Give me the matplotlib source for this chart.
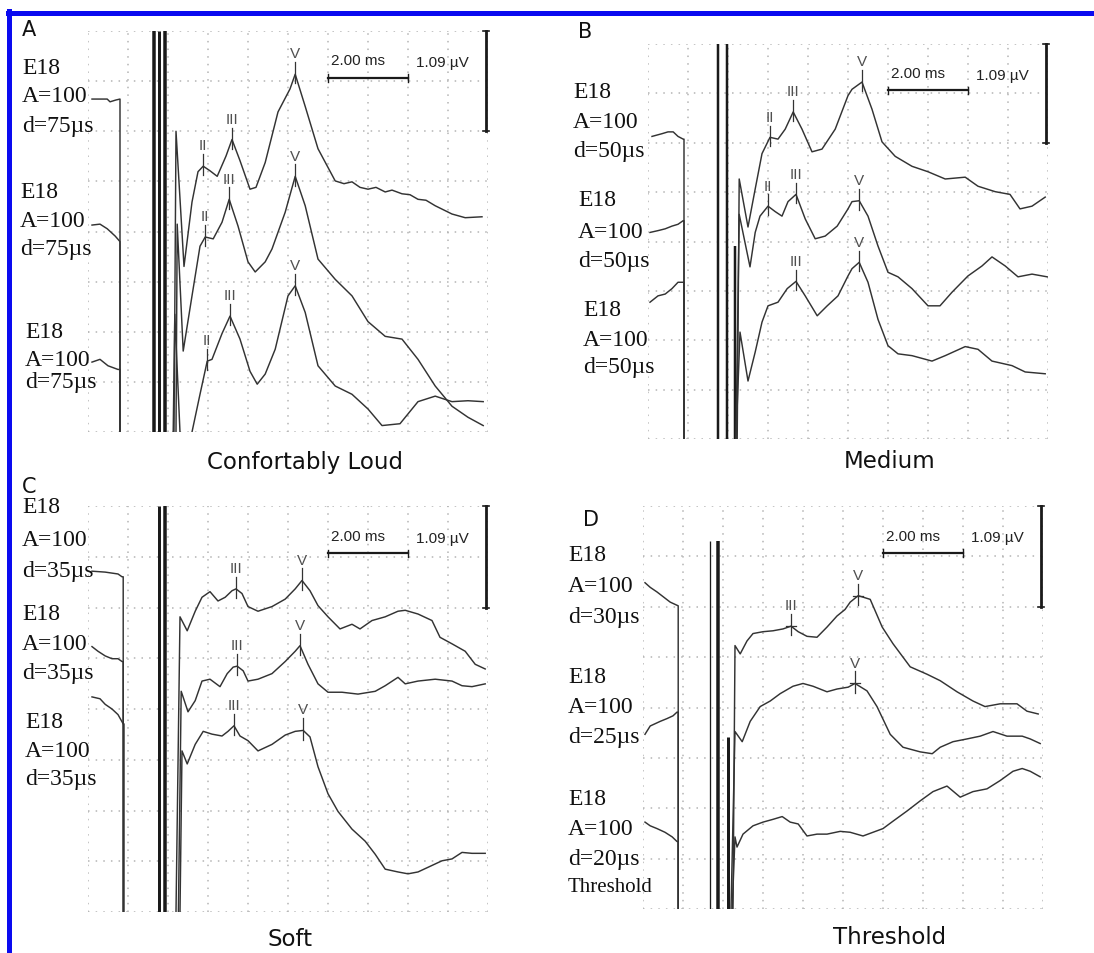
import numpy as np
import matplotlib.pyplot as plt
from matplotlib.lines import Line2D

nan = float("nan")
W, H = 1094, 954

# ---- traces: (time ms, amplitude uV); nan splits pre- and post-stimulus parts ----
a1 = [(0.1,3.62),(0.48,3.62),(0.55,3.59),(0.7,3.61),(0.8,3.62),(0.8,0),(nan,nan),
      (2.15,0),(2.2,3.27),(2.4,1.80),(2.6,2.5),(2.75,2.83),(2.88,2.89),(3.05,2.84),(3.23,2.78),
      (3.45,3.0),(3.6,3.18),(3.8,2.95),(4.05,2.64),(4.2,2.66),(4.43,2.93),(4.75,3.48),(5.05,3.73),
      (5.18,3.89),(5.43,3.54),(5.75,3.08),(6.18,2.73),(6.4,2.70),(6.6,2.72),(6.8,2.66),(7.0,2.64),
      (7.2,2.66),(7.43,2.61),(7.6,2.63),(7.85,2.59),(8.05,2.58),(8.25,2.53),(8.45,2.52),(8.68,2.46),
      (9.1,2.37),(9.43,2.33),(9.85,2.34)]
a2 = [(0.1,2.25),(0.3,2.26),(0.48,2.21),(0.68,2.13),(0.8,2.07),(0.8,0),(nan,nan),
      (2.2,0),(2.23,2.26),(2.38,0.88),(2.6,1.48),(2.8,2.02),(2.93,2.12),(3.13,2.10),(3.35,2.28),
      (3.53,2.53),(3.75,2.24),(4.0,1.85),(4.18,1.74),(4.43,1.85),(4.6,1.99),(4.93,2.39),(5.18,2.78),
      (5.43,2.46),(5.75,1.88),(6.18,1.66),(6.6,1.48),(7.0,1.20),(7.43,1.04),(7.85,1.01),(8.25,0.79),
      (8.68,0.50),(9.1,0.28),(9.5,0.16),(9.88,0.07)]
a3 = [(0.1,0.76),(0.3,0.79),(0.5,0.72),(0.75,0.68),(0.8,0.68),(0.8,0),(nan,nan),
      (2.13,0),(2.17,1.28),(2.33,-0.3),(2.55,-0.3),(2.6,0),(2.8,0.41),(2.98,0.77),(3.1,0.79),
      (3.35,1.07),(3.55,1.26),(3.8,1.01),(4.05,0.66),(4.23,0.52),(4.43,0.63),(4.68,0.9),(5.0,1.48),
      (5.18,1.59),(5.43,1.30),(5.75,0.72),(6.18,0.50),(6.6,0.41),(7.0,0.25),(7.35,0.07),(7.8,0.09),
      (8.25,0.33),(8.68,0.39),(9.1,0.33),(9.5,0.34),(9.88,0.33)]

b1 = [(0.1,3.34),(0.35,3.37),(0.5,3.39),(0.63,3.39),(0.75,3.34),(0.88,3.31),(0.9,3.31),(0.9,0),(nan,nan),
      (2.23,0),(2.28,2.87),(2.5,2.34),(2.68,2.76),(2.85,3.15),(3.05,3.33),(3.25,3.31),(3.43,3.42),
      (3.63,3.61),(3.85,3.42),(4.1,3.17),(4.35,3.2),(4.68,3.42),(5.0,3.79),(5.1,3.86),(5.35,3.94),
      (5.6,3.64),(5.85,3.28),(6.18,3.12),(6.6,3.01),(7.0,2.95),(7.43,2.87),(7.93,2.89),(8.25,2.79),
      (8.68,2.73),(9.05,2.70),(9.3,2.54),(9.6,2.57),(9.93,2.67)]
b2 = [(0.05,2.28),(0.25,2.30),(0.43,2.32),(0.6,2.35),(0.75,2.37),(0.88,2.41),(0.9,2.41),(0.9,0),(nan,nan),
      (2.2,0),(2.28,2.48),(2.55,1.90),(2.68,2.28),(2.8,2.46),(3.0,2.57),(3.18,2.51),(3.35,2.46),
      (3.5,2.62),(3.7,2.70),(3.93,2.43),(4.18,2.21),(4.43,2.24),(4.73,2.35),(5.0,2.54),(5.1,2.62),
      (5.28,2.63),(5.5,2.46),(5.75,2.13),(6.0,1.84),(6.25,1.79),(6.6,1.66),(7.0,1.47),(7.3,1.47),
      (7.6,1.62),(8.0,1.80),(8.35,1.91),(8.6,2.01),(8.93,1.91),(9.25,1.79),(9.6,1.82),(9.98,1.79)]
b3 = [(0.05,1.51),(0.25,1.58),(0.43,1.60),(0.6,1.66),(0.75,1.73),(0.88,1.73),(0.9,1.73),(0.9,0),(nan,nan),
      (2.2,0),(2.3,1.18),(2.5,0.64),(2.68,0.96),(2.85,1.29),(3.0,1.47),(3.25,1.51),(3.48,1.66),
      (3.7,1.74),(3.93,1.58),(4.23,1.36),(4.48,1.47),(4.75,1.58),(5.0,1.80),(5.1,1.88),(5.28,1.95),
      (5.5,1.73),(5.75,1.32),(6.0,1.03),(6.25,0.94),(6.6,0.92),(7.1,0.86),(7.43,0.92),(7.93,1.02),
      (8.25,0.99),(8.6,0.86),(9.1,0.81),(9.43,0.74),(9.93,0.72)]

c1 = [(0.1,3.66),(0.43,3.65),(0.75,3.63),(0.85,3.60),(0.88,3.60),(0.88,0),(nan,nan),
      (2.2,0),(2.3,3.17),(2.48,3.02),(2.68,3.23),(2.85,3.38),(3.05,3.44),(3.25,3.34),(3.43,3.38),
      (3.6,3.45),(3.7,3.47),(3.85,3.42),(4.0,3.28),(4.25,3.23),(4.6,3.28),(4.93,3.36),(5.18,3.47),
      (5.35,3.56),(5.55,3.45),(5.75,3.29),(6.0,3.17),(6.3,3.04),(6.6,3.09),(6.8,3.04),(7.1,3.13),
      (7.43,3.17),(7.75,3.23),(7.93,3.24),(8.25,3.20),(8.6,3.13),(8.8,2.95),(9.1,2.88),(9.43,2.80),
      (9.68,2.66),(9.93,2.61)]
c2 = [(0.1,2.85),(0.25,2.80),(0.43,2.75),(0.6,2.72),(0.75,2.72),(0.85,2.69),(0.88,2.69),(0.88,0),(nan,nan),
      (2.26,0),(2.33,2.37),(2.5,2.15),(2.68,2.27),(2.85,2.48),(3.05,2.50),(3.3,2.42),(3.48,2.56),
      (3.63,2.63),(3.73,2.64),(3.88,2.59),(4.0,2.48),(4.25,2.50),(4.6,2.56),(4.93,2.69),(5.18,2.80),
      (5.3,2.86),(5.5,2.66),(5.75,2.45),(6.0,2.36),(6.35,2.36),(6.75,2.34),(7.18,2.37),(7.43,2.43),
      (7.75,2.52),(7.93,2.45),(8.25,2.48),(8.68,2.50),(9.1,2.48),(9.35,2.43),(9.6,2.42),(9.93,2.45)]
c3 = [(0.1,2.31),(0.3,2.29),(0.43,2.23),(0.6,2.18),(0.75,2.12),(0.88,2.02),(0.9,2.02),(0.9,0),(nan,nan),
      (2.3,0),(2.35,1.73),(2.48,1.59),(2.68,1.80),(2.88,1.94),(3.1,1.91),(3.35,1.89),(3.5,1.94),
      (3.65,2.00),(3.8,1.89),(4.0,1.84),(4.25,1.73),(4.6,1.80),(4.93,1.90),(5.18,1.94),(5.38,1.95),
      (5.55,1.88),(5.75,1.56),(6.0,1.27),(6.25,1.08),(6.6,0.89),(6.93,0.76),(7.18,0.62),(7.43,0.46),
      (7.75,0.43),(8.0,0.41),(8.25,0.43),(8.5,0.48),(8.85,0.55),(9.1,0.57),(9.35,0.64),(9.6,0.63),
      (9.93,0.63)]

d1 = [(0.05,3.53),(0.18,3.48),(0.35,3.43),(0.5,3.38),(0.68,3.32),(0.83,3.29),(0.88,3.28),(0.88,0),(nan,nan),
      (2.25,0),(2.3,2.85),(2.43,2.76),(2.6,2.90),(2.75,2.98),(3.0,3.0),(3.25,3.01),(3.5,3.03),
      (3.7,3.06),(3.88,3.0),(4.1,2.95),(4.35,2.94),(4.6,3.05),(4.85,3.17),(5.05,3.24),(5.18,3.32),
      (5.38,3.39),(5.68,3.35),(5.98,3.05),(6.25,2.87),(6.68,2.62),(7.1,2.54),(7.43,2.47),(7.85,2.35),
      (8.25,2.25),(8.55,2.19),(8.93,2.22),(9.35,2.22),(9.6,2.14),(9.88,2.11)]
d2 = [(0.05,1.89),(0.18,1.98),(0.43,2.03),(0.6,2.06),(0.75,2.09),(0.85,2.13),(0.88,2.13),(0.88,0),(nan,nan),
      (2.2,0),(2.3,1.92),(2.48,1.81),(2.68,2.03),(2.93,2.19),(3.18,2.25),(3.43,2.33),(3.75,2.41),
      (4.0,2.44),(4.25,2.41),(4.6,2.35),(4.85,2.38),(5.13,2.40),(5.3,2.44),(5.6,2.36),(5.85,2.19),
      (6.18,1.89),(6.5,1.75),(6.93,1.70),(7.23,1.68),(7.43,1.75),(7.75,1.81),(8.1,1.84),(8.43,1.87),
      (8.75,1.92),(9.1,1.87),(9.48,1.87),(9.68,1.84),(9.93,1.79)]
d3 = [(0.05,0.94),(0.18,0.90),(0.35,0.87),(0.55,0.83),(0.73,0.78),(0.85,0.73),(0.88,0.73),(0.88,0),(nan,nan),
      (2.23,0),(2.3,0.78),(2.35,0.67),(2.5,0.81),(2.75,0.90),(3.0,0.94),(3.25,0.97),(3.48,1.0),
      (3.68,0.94),(3.88,0.92),(4.1,0.79),(4.35,0.81),(4.6,0.81),(4.93,0.84),(5.18,0.83),(5.5,0.79),
      (5.75,0.83),(6.0,0.87),(6.25,0.95),(6.6,1.06),(6.93,1.17),(7.25,1.27),(7.6,1.33),(7.93,1.21),
      (8.25,1.27),(8.6,1.30),(8.93,1.39),(9.25,1.49),(9.48,1.52),(9.68,1.49),(9.93,1.43)]

# ---- marked waves (label, latency ms, amplitude uV) ----
a_peaks = [[("II",2.88,2.89),("III",3.6,3.18),("V",5.18,3.89)],
           [("II",2.93,2.12),("III",3.53,2.53),("V",5.18,2.78)],
           [("II",2.98,0.77),("III",3.55,1.26),("V",5.18,1.59)]]
b_peaks = [[("II",3.05,3.33),("III",3.63,3.61),("V",5.35,3.94)],
           [("II",3.0,2.57),("III",3.7,2.70),("V",5.28,2.63)],
           [("III",3.7,1.74),("V",5.28,1.95)]]
c_peaks = [[("III",3.7,3.47),("V",5.35,3.56)],
           [("III",3.73,2.64),("V",5.3,2.86)],
           [("III",3.65,2.00),("V",5.38,1.95)]]
d_peaks = [[("III",3.7,3.06),("V",5.38,3.39)],
           [("V",5.3,2.44)],
           []]

# stimulus artefact lines: (time ms, top uV, width px)
a_stim = [(1.65,4.36,3.5),(1.78,4.36,3),(1.92,4.36,3.5)]
b_stim = [(1.75,4.36,2.5),(1.97,4.36,2.5),(2.18,2.13,2.5)]
c_stim = [(1.78,4.36,3),(1.93,4.36,3.5)]
d_stim = [(1.68,3.98,1.3),(1.88,3.98,3.5),(2.13,1.86,3)]

a_text = ["E18", "A=100", "d=75µs"]
b_text = ["E18", "A=100", "d=50µs"]
c_text = ["E18", "A=100", "d=35µs"]
d_text = [["E18", "A=100", "d=30µs"], ["E18", "A=100", "d=25µs"], ["E18", "A=100", "d=20µs", "Threshold"]]

titles = ["Confortably Loud", "Medium", "Soft", "Threshold"]
letters = ["A", "B", "C", "D"]

ROW = 0.545          # uV per grid row
NROW = 8
SERIF = "Liberation Serif"
TRACE = "#333333"

fig = plt.figure(figsize=(W / 100, H / 100), dpi=100)
fig.patch.set_facecolor("white")


def put(x, y, s, **kw):
    fig.text(x / W, 1 - y / H, s, **kw)


def panel(rect, traces, peaks, stim, cross=False):
    left, top, w, h = rect
    ax = fig.add_axes([left / W, 1 - (top + h) / H, w / W, h / H])
    ax.set_xlim(0, 10)
    ax.set_ylim(0, NROW * ROW)
    ax.set_xticks(np.arange(0, 11))
    ax.set_yticks(np.arange(NROW + 1) * ROW)
    ax.grid(True, color="#b4b4b4", linestyle=(0, (1, 4)), linewidth=1.1)
    ax.tick_params(length=0, labelbottom=False, labelleft=False)
    for s in ax.spines.values():
        s.set_visible(False)
    ax.set_facecolor("none")
    for t, top_v, lw in stim:
        ax.plot([t, t], [0, top_v], color="#1a1a1a", lw=lw * 0.72, solid_capstyle="butt")
    for tr, pk in zip(traces, peaks):
        arr = np.array(tr)
        ax.plot(arr[:, 0], arr[:, 1], color=TRACE, lw=1.05)
        for lab, t, v in pk:
            ax.plot([t, t], [v - 0.1, v + 0.13], color=TRACE, lw=0.9)
            if cross:
                ax.plot([t - 0.13, t + 0.13], [v, v], color=TRACE, lw=0.9)
            ax.text(t, v + 0.15, lab, ha="center", va="bottom", fontsize=11,
                    family="Liberation Sans", color="#505050")
    # scale bars
    ax.plot([6, 8], [3.85, 3.85], color="#1a1a1a", lw=1.6, clip_on=False)
    for t in (6, 8):
        ax.plot([t, t], [3.81, 3.89], color="#1a1a1a", lw=1.0, clip_on=False)
    ax.plot([9.95, 9.95], [NROW * ROW - 1.09, NROW * ROW], color="#1a1a1a", lw=2.0, clip_on=False)
    for v in (NROW * ROW - 1.09, NROW * ROW):
        ax.plot([9.88, 10.02], [v, v], color="#1a1a1a", lw=1.2, clip_on=False)
    ax.text(6.75, 4.04, "2.00 ms", ha="center", va="center", fontsize=11,
            family="Liberation Sans", color="#222222")
    ax.text(8.85, 4.02, "1.09 µV", ha="center", va="center", fontsize=11,
            family="Liberation Sans", color="#222222")
    return ax


panel((88, 32, 400, 401), [a1, a2, a3], a_peaks, a_stim)
panel((648, 45, 400, 395), [b1, b2, b3], b_peaks, b_stim)
panel((88, 507, 400, 406), [c1, c2, c3], c_peaks, c_stim)
axd = panel((643, 507, 400, 403), [d1, d2, d3], d_peaks, d_stim, cross=True)
axd.add_patch(plt.Rectangle((-0.1, 3.98), 3.6, 0.5, color="white", zorder=1.5, clip_on=False))

# left-hand labels
lab_kw = dict(family=SERIF, fontsize=17, va="center", ha="left", color="#111111")
for x, ys in [(22, (68, 97, 127)), (20, (193, 222, 250)), (25, (333, 360, 383))]:
    for s, y in zip(a_text, ys):
        put(x, y, s, **lab_kw)
for x, ys in [(573, (93, 122, 152)), (578, (200, 232, 262)), (583, (310, 340, 368))]:
    for s, y in zip(b_text, ys):
        put(x, y, s, **lab_kw)
for x, ys in [(22, (508, 540, 572)), (22, (615, 645, 673)), (25, (723, 752, 780))]:
    for s, y in zip(c_text, ys):
        put(x, y, s, **lab_kw)
for grp, ys in zip(d_text, [(556, 587, 618), (678, 708, 738), (800, 830, 860, 887)]):
    for s, y in zip(grp, ys):
        kw = dict(lab_kw)
        if s == "Threshold":
            kw["fontsize"] = 15
        put(568, y, s, **kw)

# panel letters and titles
for s, (x, y) in zip(letters, [(22, 30), (578, 32), (22, 487), (583, 520)]):
    put(x, y, s, fontsize=15, family="DejaVu Sans", va="center", ha="left", color="#111111")
for s, (x, y) in zip(titles, [(305, 463), (890, 462), (290, 940), (890, 938)]):
    put(x, y, s, fontsize=16.5, family="DejaVu Sans", va="center", ha="center", color="#111111")

# blue frame (top and left edges)
fig.add_artist(Line2D([8 / W, 1], [1 - 14 / H, 1 - 14 / H], color="#0a0af0", lw=3.6))
fig.add_artist(Line2D([9 / W, 9 / W], [0, 1 - 12 / H], color="#0a0af0", lw=3.6))

fig.savefig("out.png", dpi=100)
